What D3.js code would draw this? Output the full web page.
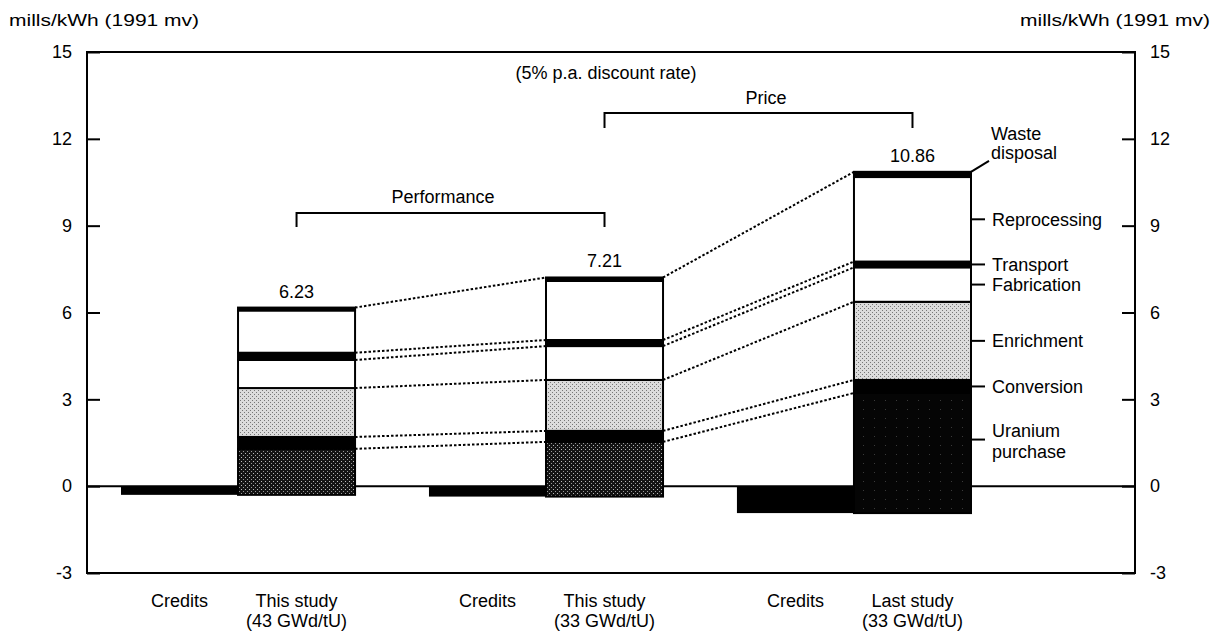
<!DOCTYPE html>
<html>
<head>
<meta charset="utf-8">
<script src="https://cdn.jsdelivr.net/npm/d3@7"></script>
<style>
  body { margin: 0; background: #fff; }
  svg { display: block; }
  text { font-family: "Liberation Sans", Arial, Helvetica, sans-serif; fill: #000; }
</style>
</head>
<body>
<div id="chart"></div>
<script>
// Fuel cycle cost components, mills/kWh (1991 money values)
const studies = ['This study (43 GWd/tU)', 'This study (33 GWd/tU)', 'Last study (33 GWd/tU)'];
const studyLines = [['This study', '(43 GWd/tU)'], ['This study', '(33 GWd/tU)'], ['Last study', '(33 GWd/tU)']];
const totalLabels = ['6.23', '7.21', '10.86'];

const credits = [-0.30, -0.36, -0.93];

const components = ['Uranium purchase', 'Conversion', 'Enrichment', 'Fabrication', 'Transport', 'Reprocessing', 'Waste disposal'];
const uranium      = [1.59, 1.89, 4.15];
const conversion   = [0.41, 0.38, 0.45];
const enrichment   = [1.69, 1.76, 2.70];
const fabrication  = [0.97, 1.17, 1.19];
const transport    = [0.25, 0.21, 0.20];
const reprocessing = [1.46, 2.04, 2.92];
const waste        = [0.10, 0.12, 0.18];

const yTicks = [-3, 0, 3, 6, 9, 12, 15];

const width = 1221, height = 636;

let svg = d3.select('#chart').append('svg')
    .attr('width', width)
    .attr('height', height);

// fills (scanned halftones)
let defs = svg.append('defs');
let pEnr = defs.append('pattern').attr('id', 'enr')
    .attr('width', 4).attr('height', 4).attr('patternUnits', 'userSpaceOnUse');
pEnr.append('rect').attr('width', 4).attr('height', 4).attr('fill', '#dcdcdc');
pEnr.append('rect').attr('x', 0).attr('y', 0).attr('width', 1).attr('height', 1).attr('fill', '#777');
pEnr.append('rect').attr('x', 2).attr('y', 2).attr('width', 1).attr('height', 1).attr('fill', '#777');

let pUr = defs.append('pattern').attr('id', 'ur')
    .attr('width', 4).attr('height', 4).attr('patternUnits', 'userSpaceOnUse');
pUr.append('rect').attr('width', 4).attr('height', 4).attr('fill', '#141414');
pUr.append('rect').attr('x', 1).attr('y', 1).attr('width', 1).attr('height', 1).attr('fill', '#bbb');
pUr.append('rect').attr('x', 3).attr('y', 3).attr('width', 1).attr('height', 1).attr('fill', '#999');

let pUr2 = defs.append('pattern').attr('id', 'ur2')
    .attr('width', 11).attr('height', 9).attr('patternUnits', 'userSpaceOnUse');
pUr2.append('rect').attr('width', 11).attr('height', 9).attr('fill', '#050505');
pUr2.append('rect').attr('x', 5).attr('y', 4).attr('width', 1).attr('height', 1).attr('fill', '#3a3a3a');

const fills = {
    'Uranium purchase': i => i === 2 ? 'url(#ur2)' : 'url(#ur)',
    'Conversion': () => '#000',
    'Enrichment': () => 'url(#enr)',
    'Fabrication': () => '#fff',
    'Transport': () => '#000',
    'Reprocessing': () => '#fff',
    'Waste disposal': () => '#000'
};

// scales
let x = d3.scaleBand().domain(studies).range([121, 971]).paddingInner(0.24).paddingOuter(0);
let xSub = d3.scaleBand().domain(['credits', 'study']).range([0, x.bandwidth()]);
let y = d3.scaleLinear().domain([-3, 15]).range([573, 52]);

const plotLeft = 87, plotRight = 1135;

// build stacks
let values = [uranium, conversion, enrichment, fabrication, transport, reprocessing, waste];
let stacks = studies.map((s, i) => {
    let base = credits[i];
    let segs = components.map((c, k) => {
        let seg = { study: s, index: i, name: c, y0: base, y1: base + values[k][i] };
        base = seg.y1;
        return seg;
    });
    return segs;
});

// zero line
svg.append('line')
    .attr('x1', plotLeft).attr('x2', plotRight)
    .attr('y1', y(0)).attr('y2', y(0))
    .attr('stroke', '#000').attr('stroke-width', 2);

// credit bars
svg.append('g').selectAll('rect')
    .data(studies)
  .enter().append('rect')
    .attr('x', d => x(d) + xSub('credits'))
    .attr('width', xSub.bandwidth())
    .attr('y', y(0))
    .attr('height', (d, i) => y(credits[i]) - y(0))
    .attr('fill', '#000');

// stacked study bars
let barG = svg.append('g');
stacks.forEach((segs, i) => {
    barG.append('g').selectAll('rect')
        .data(segs)
      .enter().append('rect')
        .attr('x', d => x(d.study) + xSub('study'))
        .attr('width', xSub.bandwidth())
        .attr('y', d => y(d.y1))
        .attr('height', d => y(d.y0) - y(d.y1))
        .attr('fill', d => fills[d.name](i))
        .attr('stroke', '#000')
        .attr('stroke-width', 2);
});

// dotted links between bars
const linkAt = ['Uranium purchase', 'Conversion', 'Enrichment', 'Fabrication', 'Transport', 'Waste disposal'];
let links = [];
for (let i = 0; i < studies.length - 1; i++) {
    linkAt.forEach(name => {
        let a = stacks[i].find(s => s.name === name);
        let b = stacks[i + 1].find(s => s.name === name);
        links.push({
            x1: x(studies[i]) + xSub('study') + xSub.bandwidth(), y1: y(a.y1),
            x2: x(studies[i + 1]) + xSub('study'), y2: y(b.y1)
        });
    });
}
svg.append('g').selectAll('line')
    .data(links)
  .enter().append('line')
    .attr('x1', d => d.x1).attr('y1', d => d.y1)
    .attr('x2', d => d.x2).attr('y2', d => d.y2)
    .attr('stroke', '#000')
    .attr('stroke-width', 2)
    .attr('stroke-dasharray', '2.5,2');

// total labels
svg.append('g').selectAll('text')
    .data(studies)
  .enter().append('text')
    .attr('x', d => x(d) + xSub('study') + xSub.bandwidth() / 2)
    .attr('y', (d, i) => y(stacks[i][stacks[i].length - 1].y1) - 10)
    .attr('text-anchor', 'middle')
    .style('font-size', '18px')
    .text((d, i) => totalLabels[i]);

// axes
let leftAxis = d3.axisLeft(y).tickValues(yTicks).tickFormat(d => String(d))
    .tickSizeInner(-13).tickSizeOuter(0).tickPadding(15);
let rightAxis = d3.axisRight(y).tickValues(yTicks).tickFormat(d => String(d))
    .tickSizeInner(-13).tickSizeOuter(0).tickPadding(15);

[[leftAxis, plotLeft], [rightAxis, plotRight]].forEach(([ax, px]) => {
    let g = svg.append('g')
        .attr('transform', `translate(${px},0)`)
        .call(ax);
    g.select('.domain').remove();
    g.selectAll('.tick line').attr('stroke', '#000').attr('stroke-width', 2);
    g.selectAll('.tick text')
        .attr('fill', '#000')
        .style('font-size', '18px')
        .style('font-family', '"Liberation Sans", Arial, sans-serif');
});

// frame
svg.append('rect')
    .attr('x', plotLeft).attr('y', y(15))
    .attr('width', plotRight - plotLeft).attr('height', y(-3) - y(15))
    .attr('fill', 'none').attr('stroke', '#000').attr('stroke-width', 2);

// unit titles
svg.append('text').attr('x', 9).attr('y', 26)
    .style('font-size', '17px').attr('textLength', 190).attr('lengthAdjust', 'spacingAndGlyphs')
    .text('mills/kWh (1991 mv)');
svg.append('text').attr('x', 1020).attr('y', 26)
    .style('font-size', '17px').attr('textLength', 190).attr('lengthAdjust', 'spacingAndGlyphs')
    .text('mills/kWh (1991 mv)');

svg.append('text').attr('x', 606).attr('y', 79)
    .attr('text-anchor', 'middle').style('font-size', '18px')
    .text('(5% p.a. discount rate)');

// brackets
let c0 = x(studies[0]) + xSub('study') + xSub.bandwidth() / 2;
let c1 = x(studies[1]) + xSub('study') + xSub.bandwidth() / 2;
let c2 = x(studies[2]) + xSub('study') + xSub.bandwidth() / 2;
let brackets = [
    { label: 'Performance', xa: c0, xb: c1, yy: 213, drop: 14, lx: 443, ly: 203 },
    { label: 'Price', xa: c1, xb: c2, yy: 113, drop: 15, lx: 766, ly: 104 }
];
brackets.forEach(b => {
    svg.append('path')
        .attr('d', `M${b.xa},${b.yy + b.drop}V${b.yy}H${b.xb}V${b.yy + b.drop}`)
        .attr('fill', 'none').attr('stroke', '#000').attr('stroke-width', 2);
    svg.append('text').attr('x', b.lx).attr('y', b.ly)
        .attr('text-anchor', 'middle').style('font-size', '18px')
        .text(b.label);
});

// component labels with leaders on last bar
let last = stacks[2];
let barRight = x(studies[2]) + xSub('study') + xSub.bandwidth();
let labG = svg.append('g');
last.forEach(seg => {
    if (seg.name === 'Waste disposal') {
        let ty = y(seg.y1);
        labG.append('line')
            .attr('x1', barRight).attr('y1', ty)
            .attr('x2', barRight + 18).attr('y2', ty - 11)
            .attr('stroke', '#000').attr('stroke-width', 2);
        labG.append('text').attr('x', barRight + 20).attr('y', ty - 32)
            .style('font-size', '18px').text('Waste');
        labG.append('text').attr('x', barRight + 20).attr('y', ty - 13)
            .style('font-size', '18px').text('disposal');
        return;
    }
    let mid = (Math.max(seg.y0, 0) + seg.y1) / 2;
    let ly = y(mid);
    labG.append('line')
        .attr('x1', barRight).attr('x2', barRight + 14)
        .attr('y1', ly).attr('y2', ly)
        .attr('stroke', '#000').attr('stroke-width', 2);
    if (seg.name === 'Uranium purchase') {
        labG.append('text').attr('x', barRight + 21).attr('y', ly - 3)
            .style('font-size', '18px').text('Uranium');
        labG.append('text').attr('x', barRight + 21).attr('y', ly + 18)
            .style('font-size', '18px').text('purchase');
    } else {
        labG.append('text').attr('x', barRight + 21).attr('y', ly)
            .attr('dy', '0.35em')
            .style('font-size', '18px').text(seg.name);
    }
});

// category labels below the frame
let bottom = svg.append('g');
studies.forEach((s, i) => {
    bottom.append('text')
        .attr('x', x(s) + xSub('credits') + xSub.bandwidth() / 2)
        .attr('y', 607)
        .attr('text-anchor', 'middle').style('font-size', '18px')
        .text('Credits');
    studyLines[i].forEach((t, j) => {
        bottom.append('text')
            .attr('x', x(s) + xSub('study') + xSub.bandwidth() / 2)
            .attr('y', 607 + j * 20)
            .attr('text-anchor', 'middle').style('font-size', '18px')
            .text(t);
    });
});
</script>
</body>
</html>
